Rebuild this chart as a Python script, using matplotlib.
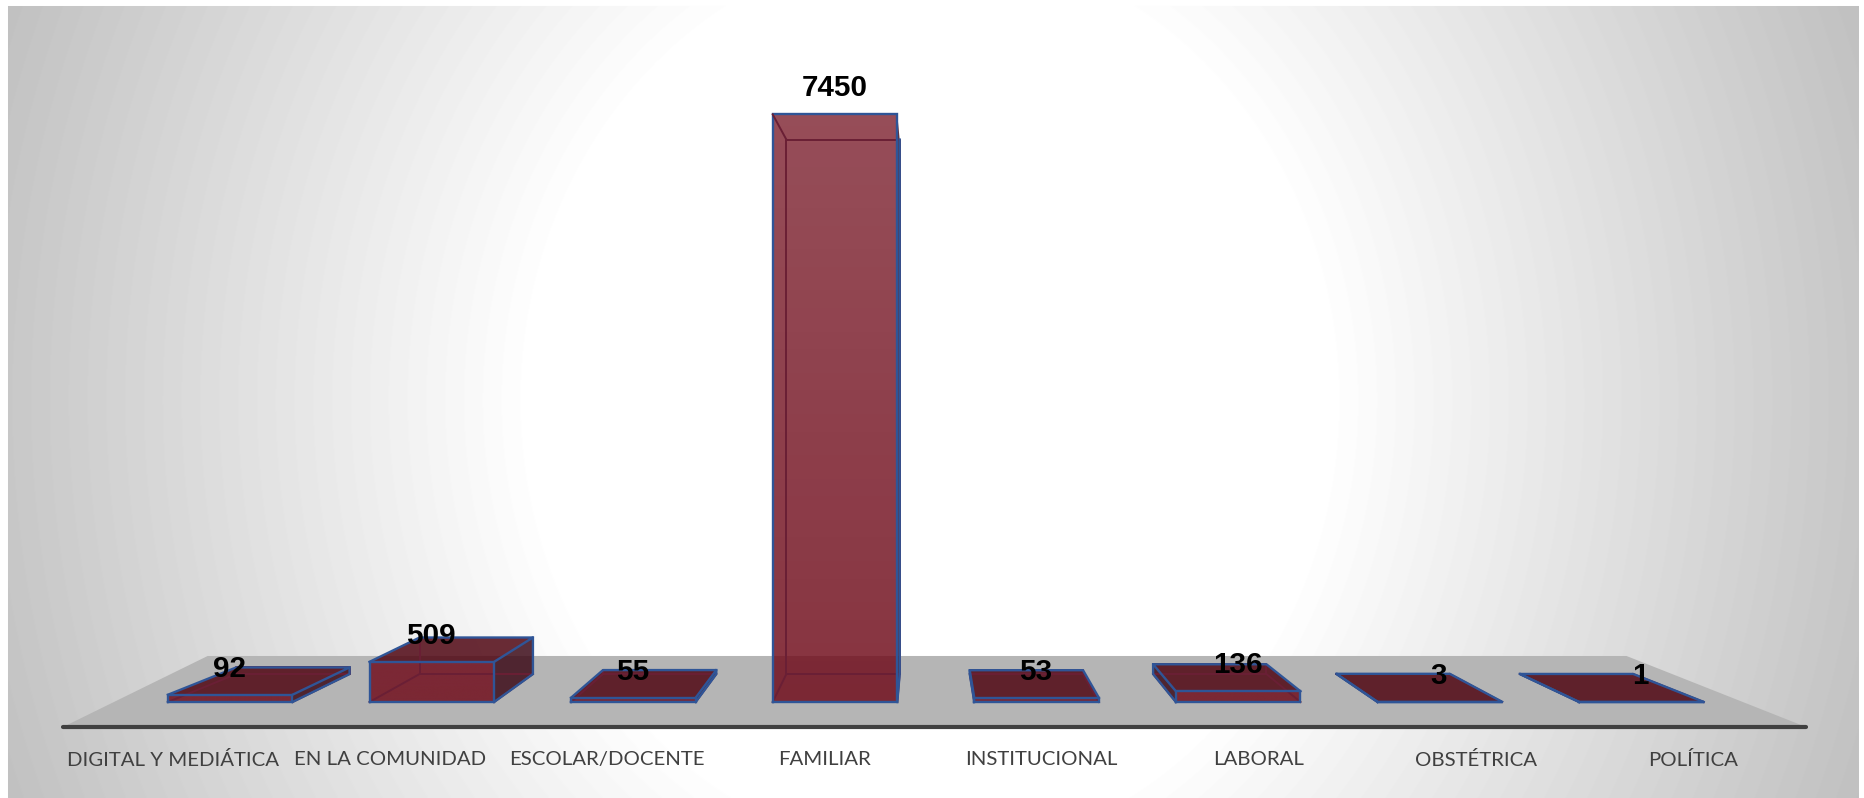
import numpy as np
import matplotlib.pyplot as plt

categories = ['DIGITAL Y MEDIÁTICA', 'EN LA COMUNIDAD', 'ESCOLAR/DOCENTE', 'FAMILIAR',
              'INSTITUCIONAL', 'LABORAL', 'OBSTÉTRICA', 'POLÍTICA']
values = [92, 509, 55, 7450, 53, 136, 3, 1]

W, H = 1865, 798
BLUE = '#2f5597'
HIDDEN = '#6a1f35'

# perspective of the fake 3d box, in data units
vx, vy = 3.44, 3924
depth = 0.9096
half = 0.309


def back(x, y):
    return vx + depth * (x - vx), vy + depth * (y - vy)


def front_tick(x):
    return 3.7 + (x - 3.7) * 1.077


fig = plt.figure(figsize=(W / 100, H / 100), dpi=100)

# background radial gradient
bg = fig.add_axes([0, 0, 1, 1])
xx, yy = np.meshgrid(np.arange(W), np.arange(H))
r = np.hypot(xx - 930, (yy - 400) * 0.9)
grey = 1 - 0.22 * np.clip((r - 400) / 530, 0, 1.15)
grey[(xx < 8) | (xx > 1858) | (yy < 6)] = 1
bg.imshow(grey, cmap='gray', vmin=0, vmax=1, aspect='auto')
bg.axis('off')

# axes spans the axis line up to the top of the picture
x0, x1, ytop, ybase = 63, 1806, 6, 727
ax = fig.add_axes([x0 / W, 1 - ybase / H, (x1 - x0) / W, (ybase - ytop) / H])
ax.patch.set_alpha(0)

floor = [(0, 0), (0.083, 0.0985), (0.897, 0.0985), (1, 0)]
ax.fill(*zip(*floor), color='#b5b5b5', transform=ax.transAxes, zorder=1, lw=0)

for i, v in enumerate(values):
    l, r_ = i - half, i + half
    bl, bb = back(l, 0)
    br, _ = back(r_, 0)
    _, bt = back(l, v)

    # front face, slightly more see through toward the top
    rgba = np.zeros((100, 1, 4))
    rgba[..., :3] = (113 / 255, 14 / 255, 29 / 255)
    rgba[..., 3] = np.linspace(0.85, 0.85 - 0.11 * v / 7450, 100)[:, None]
    im = ax.imshow(rgba, extent=(l, r_, 0, v), origin='lower', aspect='auto', zorder=3)

    # side face
    if i < vx:
        ax.fill([r_, br, br, r_], [0, bb, bt, v], color='#3d0c19', alpha=0.85, lw=0, zorder=3)
    else:
        ax.fill([l, bl, bl, l], [0, bb, bt, v], color='#3d0c19', alpha=0.85, lw=0, zorder=3)

    # top face only when seen from above
    if v < vy:
        ax.fill([l, r_, br, bl], [v, v, bt, bt], color='#500713', alpha=0.85, lw=0, zorder=3)

    # hidden edges
    ax.plot([bl, br, br, bl, bl], [bb, bb, bt, bt, bb], color=HIDDEN, lw=1.4, zorder=4)
    ax.plot([l, bl], [0, bb], color=HIDDEN, lw=1.4, zorder=4)
    ax.plot([r_, br], [0, bb], color=HIDDEN, lw=1.4, zorder=4)

    # visible edges
    ax.plot([l, r_, r_, l, l], [0, 0, v, v, 0], color=BLUE, lw=1.7, zorder=5, solid_joinstyle='miter')
    if v < vy:
        ax.plot([l, bl, br, r_], [v, bt, bt, v], color=BLUE, lw=1.7, zorder=5)
    if i < vx:
        ax.plot([r_, br, br], [0, bb, bt], color=BLUE, lw=1.7, zorder=5)
    else:
        ax.plot([l, bl, bl], [0, bb, bt], color=BLUE, lw=1.7, zorder=5)
    if v >= vy:
        ax.plot([l, bl], [v, bt], color=HIDDEN, lw=1.4, zorder=5)

    ax.annotate(str(v), (i, v), xytext=(-0.5, 18.8), textcoords='offset points', ha='center', va='center',
                fontsize=21.3, fontweight='bold', family='Liberation Sans', color='black', zorder=6)

ax.set_xlim((x0 - 230.2) / 201.6, (x1 - 230.2) / 201.6)
ax.set_ylim((702 - ybase) / 0.07887, (702 - ytop) / 0.07887)
ax.set_xticks([front_tick(i) for i in range(len(categories))])
ax.set_xticklabels(categories, family='Lato', fontsize=14.7, color='#404040')
ax.tick_params(axis='x', length=0, pad=17)
ax.set_yticks([])
for s in ['top', 'left', 'right']:
    ax.spines[s].set_visible(False)
ax.spines['bottom'].set_linewidth(3)
ax.spines['bottom'].set_color('#404040')
ax.spines['bottom'].set_capstyle('round')

fig.savefig('out.png', dpi=100)
